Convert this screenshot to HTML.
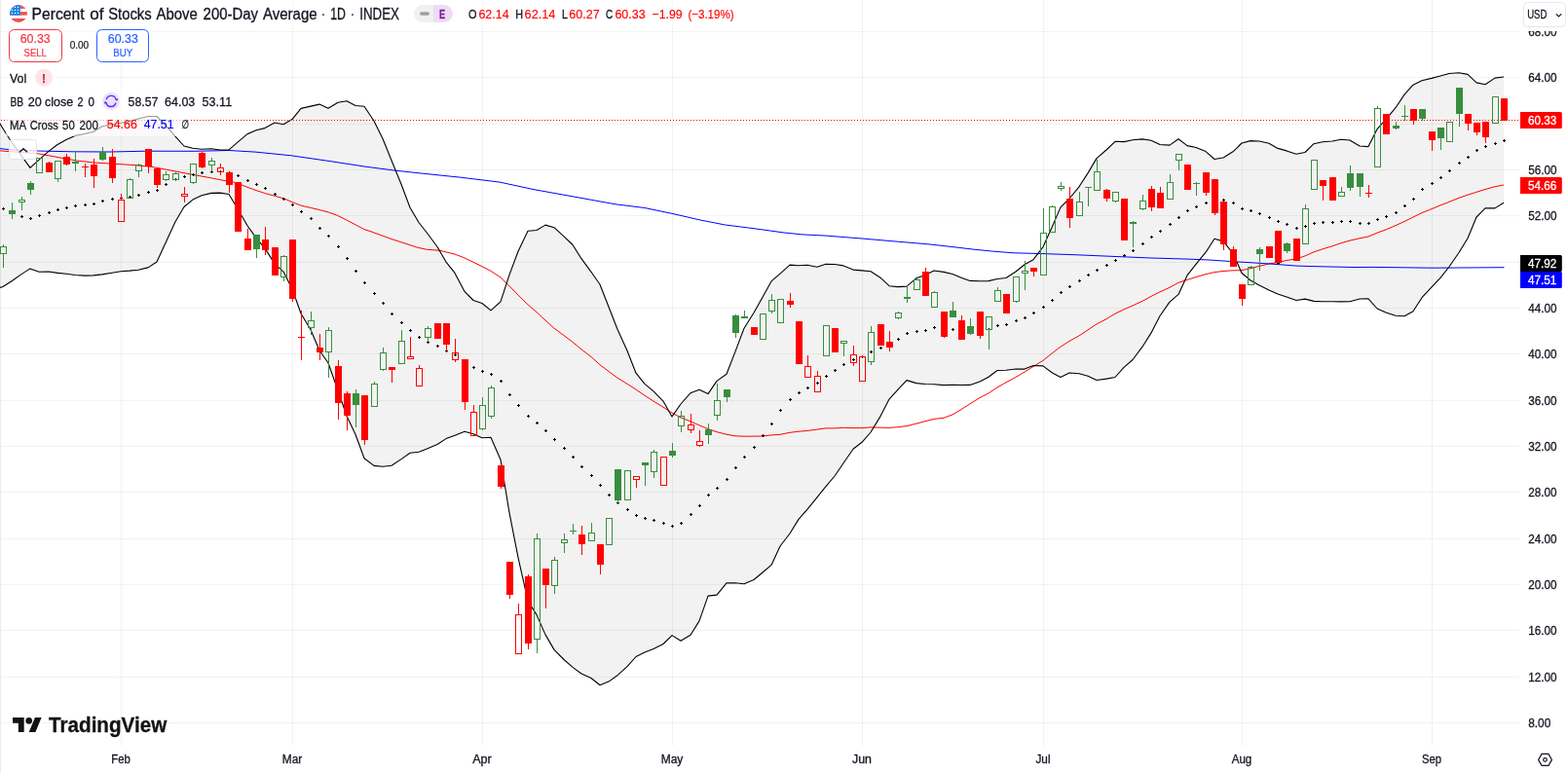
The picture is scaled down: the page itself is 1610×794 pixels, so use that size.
<!DOCTYPE html>
<html lang="en"><head><meta charset="utf-8"><title>Percent of Stocks Above 200-Day Average</title>
<style>
html,body{margin:0;padding:0;background:#fff;overflow:hidden}
body{width:1610px;height:794px;position:relative;font-family:"Liberation Sans",sans-serif}
svg text{font-family:"Liberation Sans","DejaVu Sans",sans-serif}
</style></head><body>
<svg width="1610" height="794" viewBox="0 0 1610 794" style="position:absolute;left:0;top:0;display:block">
<rect width="1610" height="794" fill="#fff"/>
<g shape-rendering="crispEdges" fill="#1c2a22" fill-opacity="0.062">
<rect x="124" y="0" width="1" height="766"/>
<rect x="300" y="0" width="1" height="766"/>
<rect x="495" y="0" width="1" height="766"/>
<rect x="690" y="0" width="1" height="766"/>
<rect x="885" y="0" width="1" height="766"/>
<rect x="1071" y="0" width="1" height="766"/>
<rect x="1275" y="0" width="1" height="766"/>
<rect x="1470" y="0" width="1" height="766"/>
<rect x="0" y="32" width="1560" height="1"/>
<rect x="0" y="79" width="1560" height="1"/>
<rect x="0" y="127" width="1560" height="1"/>
<rect x="0" y="174" width="1560" height="1"/>
<rect x="0" y="221" width="1560" height="1"/>
<rect x="0" y="269" width="1560" height="1"/>
<rect x="0" y="316" width="1560" height="1"/>
<rect x="0" y="363" width="1560" height="1"/>
<rect x="0" y="411" width="1560" height="1"/>
<rect x="0" y="458" width="1560" height="1"/>
<rect x="0" y="505" width="1560" height="1"/>
<rect x="0" y="553" width="1560" height="1"/>
<rect x="0" y="600" width="1560" height="1"/>
<rect x="0" y="647" width="1560" height="1"/>
<rect x="0" y="695" width="1560" height="1"/>
<rect x="0" y="742" width="1560" height="1"/>
</g>
<rect x="0" y="0" width="1" height="794" fill="#ececec" shape-rendering="crispEdges"/>
<polygon points="-6,117.5 3,132 12,146.2 22,159.8 31,172.4 40,164.2 50,155.4 59,148.5 68,143.5 77,139.4 87,137.5 96,135.3 105,129.8 115,127.7 124,126.2 133,124.6 142,122 152,119.5 161,119.5 170,128.7 180,140.2 189,150 198,152.3 207,153.3 217,152.7 226,154 235,153.9 244,146.1 254,137.7 263,133.8 272,131.6 282,126 291,127.8 300,122.6 309,111.4 319,109.1 328,107.1 337,111.2 347,105.2 356,103.8 365,108.5 374,109.2 384,124.2 393,142.5 402,164.8 412,189.3 421,213.3 430,228.5 439,240 449,253.5 458,269.1 467,280.4 477,299.4 486,308.5 495,311.5 504,318.9 514,309.8 523,282.4 532,258.3 542,237.2 551,236.5 560,231.1 569,233.7 579,242.8 588,251.5 597,265.7 607,279.3 616,292.2 625,315.3 634,338.3 644,360.3 653,383.2 662,394.3 671,401.8 681,412.1 690,427.9 699,415 709,403.7 718,400.2 727,404.6 736,391.4 746,384.3 755,361.1 764,337.2 774,321.3 783,305.2 792,288.9 801,281.1 811,272.1 820,272.7 829,272.3 839,274.3 848,271.2 857,271.5 866,272.9 876,277.1 885,277.9 894,278.7 904,285.2 913,293.7 922,294.6 931,294.1 941,285.7 950,282.5 959,278 969,279.4 978,281.5 987,285.3 996,288.4 1006,288.8 1015,288.6 1024,286.5 1033,285.5 1043,279 1052,271.7 1061,266.7 1071,253.6 1080,233.8 1089,212.9 1098,204 1108,191.8 1117,177.9 1126,162.6 1136,154 1145,145.3 1154,145.6 1163,143.8 1173,142.9 1182,144.2 1191,148.5 1201,149.1 1210,142.8 1219,149.6 1228,151.5 1238,155.6 1247,163.5 1256,162 1266,155.8 1275,147 1284,144.6 1293,145 1303,147.2 1312,152.4 1321,154.9 1331,158.3 1340,156.5 1349,147.7 1358,145.7 1368,145 1377,143.3 1386,144 1396,150 1405,150.6 1414,132.7 1423,122.7 1433,110.7 1442,97.1 1451,87.2 1460,82.7 1470,80.4 1479,78 1488,75.5 1498,74.7 1507,76.4 1516,84.9 1525,86.7 1535,80.1 1544,79 1544,208.3 1535,213.9 1525,213.8 1516,223 1507,244.7 1498,259.5 1488,274 1479,285.4 1470,294.9 1460,305.7 1451,319.7 1442,324.8 1433,324.3 1423,321 1414,317 1405,306.8 1396,307 1386,309.7 1377,309.9 1368,309.8 1358,309.8 1349,309.4 1340,307.1 1331,308.5 1321,304.9 1312,302 1303,297.9 1293,292.9 1284,288 1275,280.5 1266,260.2 1256,247.9 1247,245.3 1238,259.2 1228,271.4 1219,282.9 1210,302.4 1201,310.1 1191,324.5 1182,341.9 1173,356.2 1163,369.5 1154,377.3 1145,387.5 1136,389.1 1126,390.5 1117,386.3 1108,383.8 1098,383 1089,387.4 1080,382.8 1071,375.9 1061,375.5 1052,379.1 1043,379 1033,380.2 1024,380.5 1015,387.2 1006,392.1 996,395.4 987,395.5 978,395.2 969,395.6 959,394.7 950,394.5 941,393.6 931,390.6 922,400.2 913,410.1 904,427.6 894,444 885,454.3 876,461.2 866,475.7 857,489 848,499.6 839,510.8 829,523.1 820,533.4 811,548 801,561 792,580.4 783,588 774,595.5 764,599.8 755,598.7 746,598.9 736,611.1 727,612.1 718,637.9 709,652.2 699,658.3 690,652.6 681,661.5 671,666.5 662,669.9 653,674.5 644,684.7 634,693.7 625,700.1 616,703.7 607,696.5 597,692 588,685.4 579,677.5 569,667.4 560,651.9 551,631.6 542,617.1 532,572.6 523,526.7 514,472.2 504,449.3 495,449.8 486,445.8 477,443.2 467,447.3 458,450.6 449,456.5 439,460.8 430,464.2 421,465.3 412,471.6 402,478.3 393,479.2 384,478.4 374,470.8 365,446.3 356,427.3 347,401.2 337,372.8 328,360 319,338.8 309,322 300,296.7 291,279.1 282,270.9 272,255.1 263,244.4 254,231.7 244,214.5 235,199.5 226,198.1 217,198.4 207,200.7 198,205.1 189,212.5 180,227.7 170,249.5 161,269 152,274.9 142,277.2 133,278.1 124,278.7 115,280.2 105,281.9 96,282.9 87,283.1 77,282.5 68,281.2 59,280.4 50,279 40,279.3 31,275.9 22,281.6 12,288.8 3,294.5 -6,297" fill="#000" fill-opacity="0.05"/>
<polyline fill="none" stroke="#ff0000" stroke-width="1" stroke-linejoin="round" points="0,154.8 19,156.4 38,157.6 50,159.8 65,162.6 80,165.2 96,167 113,168 138,169.6 156,171.4 176,175.2 198.9,179.6 217.8,183 232.3,185.9 240.5,187.2 250.5,190.9 263.1,195.6 272.6,198.7 282.6,201.4 291.5,203.9 300.3,207.7 309.7,211.3 319.8,213.6 328.6,215.7 337.4,218 346.2,221.2 356.3,226.2 366.4,231.6 374,235.6 380,237.5 401,245.2 429,254.3 438.5,256.3 451.6,257.3 458,258.9 467,261.1 477,264.9 486,269.3 495,273.7 504,278.4 514,284.9 523,293.8 532,303.1 542,312.9 551,320.6 560,329 569,337.2 579,344.6 588,351.4 597,358.9 607,366.5 616,374.7 625,381.5 634,388.2 644,394.3 653,400.1 662,406.3 671,412.1 681,418.2 690,424.1 699,428.9 709,432.9 718,436.8 727,440.6 736,443.7 746,446.2 755,447.8 764,448.2 774,448.1 783,448 792,446.9 801,446.3 811,444.3 820,443.2 829,442.4 839,441.1 848,439.9 857,439.9 866,439.3 876,439.6 885,439.6 894,438.9 904,439.2 913,439.4 922,438.7 931,437.6 941,435.1 950,432.7 959,430.4 969,429.3 978,425.9 987,420.6 996,414.8 1006,408.5 1015,404 1024,397.9 1033,392.8 1043,387.4 1052,382.1 1061,376.5 1071,370.3 1080,363 1089,356.2 1098,350.4 1108,344.9 1117,338.9 1126,332.9 1136,327.7 1145,322.2 1154,317.8 1163,313.9 1173,309.3 1182,304.4 1191,299.8 1201,295.3 1210,290.3 1219,287.4 1228,284.6 1238,281.7 1247,279.6 1256,278.5 1266,277.8 1275,277.7 1284,275.7 1293,273.4 1303,270.9 1312,269.6 1321,267.5 1331,265.9 1340,262.9 1349,258.8 1358,255.8 1368,252.8 1377,249.7 1386,247.1 1396,244.8 1405,243 1414,239.2 1423,235.9 1433,231.6 1442,227.5 1451,223 1460,218.6 1470,214.6 1479,210.9 1488,207.4 1498,203.3 1507,200.2 1516,197.3 1525,194.5 1535,191.7 1544,190"/>
<polyline fill="none" stroke="#0000ff" stroke-width="1" stroke-linejoin="round" points="0,152.6 12,153.9 38,155 75,155.8 113,156 150,155.2 200,155.3 235,154.5 262,156.1 299,159.8 337,165.3 374,171 406,175.2 436,178.4 473,182.2 513,187.1 548,194.6 600,204 632,209.8 662,213.5 692,219.8 719,226 744,230.9 774,234.7 806,239.1 824,240.9 848,242.1 886,245.1 923,248.3 953,250.8 980,253.8 1000,256.2 1020,258.2 1041,259.8 1071,260.6 1101,261.6 1141,263.3 1182,265 1222,266.2 1241,267 1270,268.9 1282,269.6 1311,271.5 1331,273.1 1360,273.9 1390,274.5 1410,274.4 1470,275.2 1544.5,274.7"/>
<polyline fill="none" stroke="#000" stroke-width="1.1" stroke-linejoin="round" points="-6,117.5 3,132 12,146.2 22,159.8 31,172.4 40,164.2 50,155.4 59,148.5 68,143.5 77,139.4 87,137.5 96,135.3 105,129.8 115,127.7 124,126.2 133,124.6 142,122 152,119.5 161,119.5 170,128.7 180,140.2 189,150 198,152.3 207,153.3 217,152.7 226,154 235,153.9 244,146.1 254,137.7 263,133.8 272,131.6 282,126 291,127.8 300,122.6 309,111.4 319,109.1 328,107.1 337,111.2 347,105.2 356,103.8 365,108.5 374,109.2 384,124.2 393,142.5 402,164.8 412,189.3 421,213.3 430,228.5 439,240 449,253.5 458,269.1 467,280.4 477,299.4 486,308.5 495,311.5 504,318.9 514,309.8 523,282.4 532,258.3 542,237.2 551,236.5 560,231.1 569,233.7 579,242.8 588,251.5 597,265.7 607,279.3 616,292.2 625,315.3 634,338.3 644,360.3 653,383.2 662,394.3 671,401.8 681,412.1 690,427.9 699,415 709,403.7 718,400.2 727,404.6 736,391.4 746,384.3 755,361.1 764,337.2 774,321.3 783,305.2 792,288.9 801,281.1 811,272.1 820,272.7 829,272.3 839,274.3 848,271.2 857,271.5 866,272.9 876,277.1 885,277.9 894,278.7 904,285.2 913,293.7 922,294.6 931,294.1 941,285.7 950,282.5 959,278 969,279.4 978,281.5 987,285.3 996,288.4 1006,288.8 1015,288.6 1024,286.5 1033,285.5 1043,279 1052,271.7 1061,266.7 1071,253.6 1080,233.8 1089,212.9 1098,204 1108,191.8 1117,177.9 1126,162.6 1136,154 1145,145.3 1154,145.6 1163,143.8 1173,142.9 1182,144.2 1191,148.5 1201,149.1 1210,142.8 1219,149.6 1228,151.5 1238,155.6 1247,163.5 1256,162 1266,155.8 1275,147 1284,144.6 1293,145 1303,147.2 1312,152.4 1321,154.9 1331,158.3 1340,156.5 1349,147.7 1358,145.7 1368,145 1377,143.3 1386,144 1396,150 1405,150.6 1414,132.7 1423,122.7 1433,110.7 1442,97.1 1451,87.2 1460,82.7 1470,80.4 1479,78 1488,75.5 1498,74.7 1507,76.4 1516,84.9 1525,86.7 1535,80.1 1544,79"/>
<polyline fill="none" stroke="#000" stroke-width="1.1" stroke-linejoin="round" points="-6,297 3,294.5 12,288.8 22,281.6 31,275.9 40,279.3 50,279 59,280.4 68,281.2 77,282.5 87,283.1 96,282.9 105,281.9 115,280.2 124,278.7 133,278.1 142,277.2 152,274.9 161,269 170,249.5 180,227.7 189,212.5 198,205.1 207,200.7 217,198.4 226,198.1 235,199.5 244,214.5 254,231.7 263,244.4 272,255.1 282,270.9 291,279.1 300,296.7 309,322 319,338.8 328,360 337,372.8 347,401.2 356,427.3 365,446.3 374,470.8 384,478.4 393,479.2 402,478.3 412,471.6 421,465.3 430,464.2 439,460.8 449,456.5 458,450.6 467,447.3 477,443.2 486,445.8 495,449.8 504,449.3 514,472.2 523,526.7 532,572.6 542,617.1 551,631.6 560,651.9 569,667.4 579,677.5 588,685.4 597,692 607,696.5 616,703.7 625,700.1 634,693.7 644,684.7 653,674.5 662,669.9 671,666.5 681,661.5 690,652.6 699,658.3 709,652.2 718,637.9 727,612.1 736,611.1 746,598.9 755,598.7 764,599.8 774,595.5 783,588 792,580.4 801,561 811,548 820,533.4 829,523.1 839,510.8 848,499.6 857,489 866,475.7 876,461.2 885,454.3 894,444 904,427.6 913,410.1 922,400.2 931,390.6 941,393.6 950,394.5 959,394.7 969,395.6 978,395.2 987,395.5 996,395.4 1006,392.1 1015,387.2 1024,380.5 1033,380.2 1043,379 1052,379.1 1061,375.5 1071,375.9 1080,382.8 1089,387.4 1098,383 1108,383.8 1117,386.3 1126,390.5 1136,389.1 1145,387.5 1154,377.3 1163,369.5 1173,356.2 1182,341.9 1191,324.5 1201,310.1 1210,302.4 1219,282.9 1228,271.4 1238,259.2 1247,245.3 1256,247.9 1266,260.2 1275,280.5 1284,288 1293,292.9 1303,297.9 1312,302 1321,304.9 1331,308.5 1340,307.1 1349,309.4 1358,309.8 1368,309.8 1377,309.9 1386,309.7 1396,307 1405,306.8 1414,317 1423,321 1433,324.3 1442,324.8 1451,319.7 1460,305.7 1470,294.9 1479,285.4 1488,274 1498,259.5 1507,244.7 1516,223 1525,213.8 1535,213.9 1544,208.3"/>
<g shape-rendering="crispEdges" fill="#000">
<path d="M2 214h3v1h-3zM3 213h1v3h-1z"/>
<path d="M11 218h3v1h-3zM12 217h1v3h-1z"/>
<path d="M21 222h3v1h-3zM22 221h1v3h-1z"/>
<path d="M30 224h3v1h-3zM31 223h1v3h-1z"/>
<path d="M39 221h3v1h-3zM40 220h1v3h-1z"/>
<path d="M49 218h3v1h-3zM50 217h1v3h-1z"/>
<path d="M58 215h3v1h-3zM59 214h1v3h-1z"/>
<path d="M67 213h3v1h-3zM68 212h1v3h-1z"/>
<path d="M76 211h3v1h-3zM77 210h1v3h-1z"/>
<path d="M86 210h3v1h-3zM87 209h1v3h-1z"/>
<path d="M95 209h3v1h-3zM96 208h1v3h-1z"/>
<path d="M104 206h3v1h-3zM105 205h1v3h-1z"/>
<path d="M114 204h3v1h-3zM115 203h1v3h-1z"/>
<path d="M123 203h3v1h-3zM124 202h1v3h-1z"/>
<path d="M132 202h3v1h-3zM133 201h1v3h-1z"/>
<path d="M141 200h3v1h-3zM142 199h1v3h-1z"/>
<path d="M151 197h3v1h-3zM152 196h1v3h-1z"/>
<path d="M160 195h3v1h-3zM161 194h1v3h-1z"/>
<path d="M169 189h3v1h-3zM170 188h1v3h-1z"/>
<path d="M179 184h3v1h-3zM180 183h1v3h-1z"/>
<path d="M188 181h3v1h-3zM189 180h1v3h-1z"/>
<path d="M197 179h3v1h-3zM198 178h1v3h-1z"/>
<path d="M206 177h3v1h-3zM207 176h1v3h-1z"/>
<path d="M216 176h3v1h-3zM217 175h1v3h-1z"/>
<path d="M225 176h3v1h-3zM226 175h1v3h-1z"/>
<path d="M234 177h3v1h-3zM235 176h1v3h-1z"/>
<path d="M243 180h3v1h-3zM244 179h1v3h-1z"/>
<path d="M253 185h3v1h-3zM254 184h1v3h-1z"/>
<path d="M262 189h3v1h-3zM263 188h1v3h-1z"/>
<path d="M271 193h3v1h-3zM272 192h1v3h-1z"/>
<path d="M281 199h3v1h-3zM282 198h1v3h-1z"/>
<path d="M290 204h3v1h-3zM291 203h1v3h-1z"/>
<path d="M299 210h3v1h-3zM300 209h1v3h-1z"/>
<path d="M308 217h3v1h-3zM309 216h1v3h-1z"/>
<path d="M318 224h3v1h-3zM319 223h1v3h-1z"/>
<path d="M327 234h3v1h-3zM328 233h1v3h-1z"/>
<path d="M336 242h3v1h-3zM337 241h1v3h-1z"/>
<path d="M346 253h3v1h-3zM347 252h1v3h-1z"/>
<path d="M355 265h3v1h-3zM356 264h1v3h-1z"/>
<path d="M364 278h3v1h-3zM365 277h1v3h-1z"/>
<path d="M373 290h3v1h-3zM374 289h1v3h-1z"/>
<path d="M383 301h3v1h-3zM384 300h1v3h-1z"/>
<path d="M392 311h3v1h-3zM393 310h1v3h-1z"/>
<path d="M401 322h3v1h-3zM402 321h1v3h-1z"/>
<path d="M411 331h3v1h-3zM412 330h1v3h-1z"/>
<path d="M420 339h3v1h-3zM421 338h1v3h-1z"/>
<path d="M429 346h3v1h-3zM430 345h1v3h-1z"/>
<path d="M438 351h3v1h-3zM439 350h1v3h-1z"/>
<path d="M448 355h3v1h-3zM449 354h1v3h-1z"/>
<path d="M457 360h3v1h-3zM458 359h1v3h-1z"/>
<path d="M466 364h3v1h-3zM467 363h1v3h-1z"/>
<path d="M476 371h3v1h-3zM477 370h1v3h-1z"/>
<path d="M485 377h3v1h-3zM486 376h1v3h-1z"/>
<path d="M494 381h3v1h-3zM495 380h1v3h-1z"/>
<path d="M503 384h3v1h-3zM504 383h1v3h-1z"/>
<path d="M513 391h3v1h-3zM514 390h1v3h-1z"/>
<path d="M522 405h3v1h-3zM523 404h1v3h-1z"/>
<path d="M531 416h3v1h-3zM532 415h1v3h-1z"/>
<path d="M541 427h3v1h-3zM542 426h1v3h-1z"/>
<path d="M550 434h3v1h-3zM551 433h1v3h-1z"/>
<path d="M559 442h3v1h-3zM560 441h1v3h-1z"/>
<path d="M568 451h3v1h-3zM569 450h1v3h-1z"/>
<path d="M578 460h3v1h-3zM579 459h1v3h-1z"/>
<path d="M587 469h3v1h-3zM588 468h1v3h-1z"/>
<path d="M596 479h3v1h-3zM597 478h1v3h-1z"/>
<path d="M606 488h3v1h-3zM607 487h1v3h-1z"/>
<path d="M615 498h3v1h-3zM616 497h1v3h-1z"/>
<path d="M624 508h3v1h-3zM625 507h1v3h-1z"/>
<path d="M633 516h3v1h-3zM634 515h1v3h-1z"/>
<path d="M643 523h3v1h-3zM644 522h1v3h-1z"/>
<path d="M652 529h3v1h-3zM653 528h1v3h-1z"/>
<path d="M661 532h3v1h-3zM662 531h1v3h-1z"/>
<path d="M670 534h3v1h-3zM671 533h1v3h-1z"/>
<path d="M680 537h3v1h-3zM681 536h1v3h-1z"/>
<path d="M689 540h3v1h-3zM690 539h1v3h-1z"/>
<path d="M698 537h3v1h-3zM699 536h1v3h-1z"/>
<path d="M708 528h3v1h-3zM709 527h1v3h-1z"/>
<path d="M717 519h3v1h-3zM718 518h1v3h-1z"/>
<path d="M726 508h3v1h-3zM727 507h1v3h-1z"/>
<path d="M735 501h3v1h-3zM736 500h1v3h-1z"/>
<path d="M745 492h3v1h-3zM746 491h1v3h-1z"/>
<path d="M754 480h3v1h-3zM755 479h1v3h-1z"/>
<path d="M763 469h3v1h-3zM764 468h1v3h-1z"/>
<path d="M773 459h3v1h-3zM774 458h1v3h-1z"/>
<path d="M782 447h3v1h-3zM783 446h1v3h-1z"/>
<path d="M791 435h3v1h-3zM792 434h1v3h-1z"/>
<path d="M800 421h3v1h-3zM801 420h1v3h-1z"/>
<path d="M810 410h3v1h-3zM811 409h1v3h-1z"/>
<path d="M819 403h3v1h-3zM820 402h1v3h-1z"/>
<path d="M828 398h3v1h-3zM829 397h1v3h-1z"/>
<path d="M838 393h3v1h-3zM839 392h1v3h-1z"/>
<path d="M847 386h3v1h-3zM848 385h1v3h-1z"/>
<path d="M856 380h3v1h-3zM857 379h1v3h-1z"/>
<path d="M865 374h3v1h-3zM866 373h1v3h-1z"/>
<path d="M875 369h3v1h-3zM876 368h1v3h-1z"/>
<path d="M884 366h3v1h-3zM885 365h1v3h-1z"/>
<path d="M893 361h3v1h-3zM894 360h1v3h-1z"/>
<path d="M903 357h3v1h-3zM904 356h1v3h-1z"/>
<path d="M912 352h3v1h-3zM913 351h1v3h-1z"/>
<path d="M921 348h3v1h-3zM922 347h1v3h-1z"/>
<path d="M930 342h3v1h-3zM931 341h1v3h-1z"/>
<path d="M940 340h3v1h-3zM941 339h1v3h-1z"/>
<path d="M949 339h3v1h-3zM950 338h1v3h-1z"/>
<path d="M958 336h3v1h-3zM959 335h1v3h-1z"/>
<path d="M968 338h3v1h-3zM969 337h1v3h-1z"/>
<path d="M977 338h3v1h-3zM978 337h1v3h-1z"/>
<path d="M986 341h3v1h-3zM987 340h1v3h-1z"/>
<path d="M995 342h3v1h-3zM996 341h1v3h-1z"/>
<path d="M1005 341h3v1h-3zM1006 340h1v3h-1z"/>
<path d="M1014 338h3v1h-3zM1015 337h1v3h-1z"/>
<path d="M1023 334h3v1h-3zM1024 333h1v3h-1z"/>
<path d="M1032 333h3v1h-3zM1033 332h1v3h-1z"/>
<path d="M1042 329h3v1h-3zM1043 328h1v3h-1z"/>
<path d="M1051 326h3v1h-3zM1052 325h1v3h-1z"/>
<path d="M1060 321h3v1h-3zM1061 320h1v3h-1z"/>
<path d="M1070 315h3v1h-3zM1071 314h1v3h-1z"/>
<path d="M1079 308h3v1h-3zM1080 307h1v3h-1z"/>
<path d="M1088 300h3v1h-3zM1089 299h1v3h-1z"/>
<path d="M1097 294h3v1h-3zM1098 293h1v3h-1z"/>
<path d="M1107 288h3v1h-3zM1108 287h1v3h-1z"/>
<path d="M1116 282h3v1h-3zM1117 281h1v3h-1z"/>
<path d="M1125 277h3v1h-3zM1126 276h1v3h-1z"/>
<path d="M1135 272h3v1h-3zM1136 271h1v3h-1z"/>
<path d="M1144 267h3v1h-3zM1145 266h1v3h-1z"/>
<path d="M1153 262h3v1h-3zM1154 261h1v3h-1z"/>
<path d="M1162 257h3v1h-3zM1163 256h1v3h-1z"/>
<path d="M1172 250h3v1h-3zM1173 249h1v3h-1z"/>
<path d="M1181 243h3v1h-3zM1182 242h1v3h-1z"/>
<path d="M1190 237h3v1h-3zM1191 236h1v3h-1z"/>
<path d="M1200 230h3v1h-3zM1201 229h1v3h-1z"/>
<path d="M1209 223h3v1h-3zM1210 222h1v3h-1z"/>
<path d="M1218 216h3v1h-3zM1219 215h1v3h-1z"/>
<path d="M1227 212h3v1h-3zM1228 211h1v3h-1z"/>
<path d="M1237 208h3v1h-3zM1238 207h1v3h-1z"/>
<path d="M1246 205h3v1h-3zM1247 204h1v3h-1z"/>
<path d="M1255 205h3v1h-3zM1256 204h1v3h-1z"/>
<path d="M1265 208h3v1h-3zM1266 207h1v3h-1z"/>
<path d="M1274 214h3v1h-3zM1275 213h1v3h-1z"/>
<path d="M1283 216h3v1h-3zM1284 215h1v3h-1z"/>
<path d="M1292 219h3v1h-3zM1293 218h1v3h-1z"/>
<path d="M1302 223h3v1h-3zM1303 222h1v3h-1z"/>
<path d="M1311 227h3v1h-3zM1312 226h1v3h-1z"/>
<path d="M1320 230h3v1h-3zM1321 229h1v3h-1z"/>
<path d="M1330 234h3v1h-3zM1331 233h1v3h-1z"/>
<path d="M1339 232h3v1h-3zM1340 231h1v3h-1z"/>
<path d="M1348 229h3v1h-3zM1349 228h1v3h-1z"/>
<path d="M1357 228h3v1h-3zM1358 227h1v3h-1z"/>
<path d="M1367 228h3v1h-3zM1368 227h1v3h-1z"/>
<path d="M1376 227h3v1h-3zM1377 226h1v3h-1z"/>
<path d="M1385 227h3v1h-3zM1386 226h1v3h-1z"/>
<path d="M1395 229h3v1h-3zM1396 228h1v3h-1z"/>
<path d="M1404 229h3v1h-3zM1405 228h1v3h-1z"/>
<path d="M1413 225h3v1h-3zM1414 224h1v3h-1z"/>
<path d="M1422 222h3v1h-3zM1423 221h1v3h-1z"/>
<path d="M1432 218h3v1h-3zM1433 217h1v3h-1z"/>
<path d="M1441 211h3v1h-3zM1442 210h1v3h-1z"/>
<path d="M1450 204h3v1h-3zM1451 203h1v3h-1z"/>
<path d="M1459 194h3v1h-3zM1460 193h1v3h-1z"/>
<path d="M1469 188h3v1h-3zM1470 187h1v3h-1z"/>
<path d="M1478 182h3v1h-3zM1479 181h1v3h-1z"/>
<path d="M1487 175h3v1h-3zM1488 174h1v3h-1z"/>
<path d="M1497 167h3v1h-3zM1498 166h1v3h-1z"/>
<path d="M1506 161h3v1h-3zM1507 160h1v3h-1z"/>
<path d="M1515 154h3v1h-3zM1516 153h1v3h-1z"/>
<path d="M1524 150h3v1h-3zM1525 149h1v3h-1z"/>
<path d="M1534 147h3v1h-3zM1535 146h1v3h-1z"/>
<path d="M1543 144h3v1h-3zM1544 143h1v3h-1z"/>
<path d="M1311 270h3v1h-3zM1312 269h1v3h-1z"/>
</g>
<g shape-rendering="crispEdges">
<rect x="3" y="251" width="1" height="2" fill="#388e3c"/>
<rect x="3" y="261" width="1" height="14" fill="#388e3c"/>
<rect x="0.5" y="253.5" width="6" height="7" fill="none" stroke="#388e3c" stroke-width="1"/>
<rect x="12" y="208" width="1" height="8" fill="#388e3c"/>
<rect x="12" y="220" width="1" height="5" fill="#388e3c"/>
<rect x="9" y="216" width="7" height="4" fill="#388e3c"/>
<rect x="22" y="202" width="1" height="3" fill="#388e3c"/>
<rect x="22" y="208" width="1" height="8" fill="#388e3c"/>
<rect x="19.5" y="205.5" width="6" height="2" fill="none" stroke="#388e3c" stroke-width="1"/>
<rect x="31" y="186" width="1" height="2" fill="#388e3c"/>
<rect x="31" y="195" width="1" height="5" fill="#388e3c"/>
<rect x="28" y="188" width="7" height="7" fill="#388e3c"/>
<rect x="37.5" y="162.5" width="6" height="15" fill="none" stroke="#388e3c" stroke-width="1"/>
<rect x="50" y="166" width="1" height="1" fill="#ff0000"/>
<rect x="47" y="167" width="7" height="10" fill="#ff0000"/>
<rect x="59" y="184" width="1" height="3" fill="#388e3c"/>
<rect x="56.5" y="165.5" width="6" height="18" fill="none" stroke="#388e3c" stroke-width="1"/>
<rect x="68" y="158" width="1" height="3" fill="#ff0000"/>
<rect x="68" y="169" width="1" height="1" fill="#ff0000"/>
<rect x="65" y="161" width="7" height="8" fill="#ff0000"/>
<rect x="77" y="155" width="1" height="11" fill="#388e3c"/>
<rect x="77" y="168" width="1" height="8" fill="#388e3c"/>
<rect x="74" y="166" width="7" height="2" fill="#388e3c"/>
<rect x="87" y="168" width="1" height="3" fill="#ff0000"/>
<rect x="87" y="172" width="1" height="10" fill="#ff0000"/>
<rect x="84" y="171" width="7" height="1" fill="#ff0000"/>
<rect x="96" y="163" width="1" height="6" fill="#ff0000"/>
<rect x="96" y="181" width="1" height="12" fill="#ff0000"/>
<rect x="93" y="169" width="7" height="12" fill="#ff0000"/>
<rect x="105" y="151" width="1" height="5" fill="#388e3c"/>
<rect x="105" y="164" width="1" height="1" fill="#388e3c"/>
<rect x="102" y="156" width="7" height="8" fill="#388e3c"/>
<rect x="115" y="153" width="1" height="8" fill="#ff0000"/>
<rect x="115" y="183" width="1" height="5" fill="#ff0000"/>
<rect x="112" y="161" width="7" height="22" fill="#ff0000"/>
<rect x="124" y="199" width="1" height="6" fill="#ff0000"/>
<rect x="121.5" y="205.5" width="6" height="22" fill="none" stroke="#ff0000" stroke-width="1"/>
<rect x="133" y="183" width="1" height="1" fill="#388e3c"/>
<rect x="130.5" y="184.5" width="6" height="19" fill="none" stroke="#388e3c" stroke-width="1"/>
<rect x="142" y="168" width="1" height="1" fill="#388e3c"/>
<rect x="142" y="176" width="1" height="6" fill="#388e3c"/>
<rect x="139.5" y="169.5" width="6" height="6" fill="none" stroke="#388e3c" stroke-width="1"/>
<rect x="152" y="171" width="1" height="7" fill="#ff0000"/>
<rect x="149" y="153" width="7" height="18" fill="#ff0000"/>
<rect x="161" y="190" width="1" height="3" fill="#ff0000"/>
<rect x="158" y="173" width="7" height="17" fill="#ff0000"/>
<rect x="170" y="176" width="1" height="3" fill="#388e3c"/>
<rect x="170" y="185" width="1" height="1" fill="#388e3c"/>
<rect x="167.5" y="179.5" width="6" height="5" fill="none" stroke="#388e3c" stroke-width="1"/>
<rect x="180" y="177" width="1" height="1" fill="#388e3c"/>
<rect x="180" y="185" width="1" height="1" fill="#388e3c"/>
<rect x="177.5" y="178.5" width="6" height="6" fill="none" stroke="#388e3c" stroke-width="1"/>
<rect x="189" y="192" width="1" height="7" fill="#ff0000"/>
<rect x="189" y="202" width="1" height="6" fill="#ff0000"/>
<rect x="186.5" y="199.5" width="6" height="2" fill="none" stroke="#ff0000" stroke-width="1"/>
<rect x="198" y="188" width="1" height="1" fill="#388e3c"/>
<rect x="195.5" y="168.5" width="6" height="19" fill="none" stroke="#388e3c" stroke-width="1"/>
<rect x="207" y="156" width="1" height="1" fill="#ff0000"/>
<rect x="207" y="172" width="1" height="1" fill="#ff0000"/>
<rect x="204" y="157" width="7" height="15" fill="#ff0000"/>
<rect x="217" y="162" width="1" height="3" fill="#388e3c"/>
<rect x="217" y="170" width="1" height="6" fill="#388e3c"/>
<rect x="214.5" y="165.5" width="6" height="4" fill="none" stroke="#388e3c" stroke-width="1"/>
<rect x="226" y="168" width="1" height="4" fill="#ff0000"/>
<rect x="226" y="177" width="1" height="3" fill="#ff0000"/>
<rect x="223.5" y="172.5" width="6" height="4" fill="none" stroke="#ff0000" stroke-width="1"/>
<rect x="235" y="190" width="1" height="8" fill="#ff0000"/>
<rect x="232" y="177" width="7" height="13" fill="#ff0000"/>
<rect x="241" y="187" width="7" height="51" fill="#ff0000"/>
<rect x="254" y="235" width="1" height="10" fill="#ff0000"/>
<rect x="251" y="245" width="7" height="12" fill="#ff0000"/>
<rect x="263" y="256" width="1" height="9" fill="#388e3c"/>
<rect x="260" y="241" width="7" height="15" fill="#388e3c"/>
<rect x="272" y="233" width="1" height="13" fill="#ff0000"/>
<rect x="272" y="257" width="1" height="5" fill="#ff0000"/>
<rect x="269" y="246" width="7" height="11" fill="#ff0000"/>
<rect x="279" y="254" width="7" height="29" fill="#ff0000"/>
<rect x="291" y="262" width="1" height="1" fill="#388e3c"/>
<rect x="291" y="285" width="1" height="4" fill="#388e3c"/>
<rect x="288.5" y="263.5" width="6" height="21" fill="none" stroke="#388e3c" stroke-width="1"/>
<rect x="300" y="307" width="1" height="3" fill="#ff0000"/>
<rect x="297" y="246" width="7" height="61" fill="#ff0000"/>
<rect x="309" y="319" width="1" height="27" fill="#ff0000"/>
<rect x="309" y="347" width="1" height="23" fill="#ff0000"/>
<rect x="306" y="346" width="7" height="1" fill="#ff0000"/>
<rect x="319" y="320" width="1" height="9" fill="#388e3c"/>
<rect x="319" y="337" width="1" height="7" fill="#388e3c"/>
<rect x="316.5" y="329.5" width="6" height="7" fill="none" stroke="#388e3c" stroke-width="1"/>
<rect x="328" y="343" width="1" height="14" fill="#ff0000"/>
<rect x="328" y="362" width="1" height="8" fill="#ff0000"/>
<rect x="325" y="357" width="7" height="5" fill="#ff0000"/>
<rect x="337" y="336" width="1" height="3" fill="#388e3c"/>
<rect x="337" y="362" width="1" height="26" fill="#388e3c"/>
<rect x="334.5" y="339.5" width="6" height="22" fill="none" stroke="#388e3c" stroke-width="1"/>
<rect x="347" y="370" width="1" height="6" fill="#ff0000"/>
<rect x="347" y="414" width="1" height="17" fill="#ff0000"/>
<rect x="344" y="376" width="7" height="38" fill="#ff0000"/>
<rect x="356" y="402" width="1" height="2" fill="#ff0000"/>
<rect x="356" y="427" width="1" height="15" fill="#ff0000"/>
<rect x="353" y="404" width="7" height="23" fill="#ff0000"/>
<rect x="365" y="400" width="1" height="4" fill="#388e3c"/>
<rect x="365" y="416" width="1" height="23" fill="#388e3c"/>
<rect x="362" y="404" width="7" height="12" fill="#388e3c"/>
<rect x="374" y="452" width="1" height="5" fill="#ff0000"/>
<rect x="371" y="406" width="7" height="46" fill="#ff0000"/>
<rect x="384" y="392" width="1" height="2" fill="#388e3c"/>
<rect x="381.5" y="394.5" width="6" height="23" fill="none" stroke="#388e3c" stroke-width="1"/>
<rect x="393" y="357" width="1" height="5" fill="#388e3c"/>
<rect x="393" y="380" width="1" height="1" fill="#388e3c"/>
<rect x="390.5" y="362.5" width="6" height="17" fill="none" stroke="#388e3c" stroke-width="1"/>
<rect x="402" y="380" width="1" height="13" fill="#ff0000"/>
<rect x="399" y="377" width="7" height="3" fill="#ff0000"/>
<rect x="412" y="339" width="1" height="11" fill="#388e3c"/>
<rect x="409.5" y="350.5" width="6" height="23" fill="none" stroke="#388e3c" stroke-width="1"/>
<rect x="421" y="346" width="1" height="20" fill="#ff0000"/>
<rect x="418.5" y="366.5" width="6" height="2" fill="none" stroke="#ff0000" stroke-width="1"/>
<rect x="430" y="375" width="1" height="3" fill="#ff0000"/>
<rect x="427.5" y="378.5" width="6" height="18" fill="none" stroke="#ff0000" stroke-width="1"/>
<rect x="439" y="335" width="1" height="2" fill="#388e3c"/>
<rect x="439" y="347" width="1" height="4" fill="#388e3c"/>
<rect x="436.5" y="337.5" width="6" height="9" fill="none" stroke="#388e3c" stroke-width="1"/>
<rect x="446" y="332" width="7" height="16" fill="#ff0000"/>
<rect x="458" y="354" width="1" height="7" fill="#ff0000"/>
<rect x="455" y="332" width="7" height="22" fill="#ff0000"/>
<rect x="467" y="348" width="1" height="14" fill="#ff0000"/>
<rect x="467" y="370" width="1" height="2" fill="#ff0000"/>
<rect x="464.5" y="362.5" width="6" height="7" fill="none" stroke="#ff0000" stroke-width="1"/>
<rect x="477" y="413" width="1" height="8" fill="#ff0000"/>
<rect x="474" y="369" width="7" height="44" fill="#ff0000"/>
<rect x="486" y="416" width="1" height="7" fill="#ff0000"/>
<rect x="483.5" y="423.5" width="6" height="24" fill="none" stroke="#ff0000" stroke-width="1"/>
<rect x="495" y="408" width="1" height="8" fill="#388e3c"/>
<rect x="495" y="441" width="1" height="1" fill="#388e3c"/>
<rect x="492.5" y="416.5" width="6" height="24" fill="none" stroke="#388e3c" stroke-width="1"/>
<rect x="504" y="396" width="1" height="2" fill="#388e3c"/>
<rect x="504" y="428" width="1" height="2" fill="#388e3c"/>
<rect x="501.5" y="398.5" width="6" height="29" fill="none" stroke="#388e3c" stroke-width="1"/>
<rect x="514" y="500" width="1" height="2" fill="#ff0000"/>
<rect x="511" y="478" width="7" height="22" fill="#ff0000"/>
<rect x="523" y="611" width="1" height="4" fill="#ff0000"/>
<rect x="520" y="577" width="7" height="34" fill="#ff0000"/>
<rect x="532" y="620" width="1" height="11" fill="#ff0000"/>
<rect x="529.5" y="631.5" width="6" height="40" fill="none" stroke="#ff0000" stroke-width="1"/>
<rect x="542" y="590" width="1" height="2" fill="#ff0000"/>
<rect x="542" y="661" width="1" height="6" fill="#ff0000"/>
<rect x="539" y="592" width="7" height="69" fill="#ff0000"/>
<rect x="551" y="548" width="1" height="5" fill="#388e3c"/>
<rect x="551" y="657" width="1" height="14" fill="#388e3c"/>
<rect x="548.5" y="553.5" width="6" height="103" fill="none" stroke="#388e3c" stroke-width="1"/>
<rect x="560" y="601" width="1" height="24" fill="#ff0000"/>
<rect x="557" y="584" width="7" height="17" fill="#ff0000"/>
<rect x="569" y="572" width="1" height="3" fill="#388e3c"/>
<rect x="569" y="602" width="1" height="8" fill="#388e3c"/>
<rect x="566.5" y="575.5" width="6" height="26" fill="none" stroke="#388e3c" stroke-width="1"/>
<rect x="579" y="548" width="1" height="6" fill="#388e3c"/>
<rect x="579" y="558" width="1" height="10" fill="#388e3c"/>
<rect x="576.5" y="554.5" width="6" height="3" fill="none" stroke="#388e3c" stroke-width="1"/>
<rect x="588" y="538" width="1" height="7" fill="#388e3c"/>
<rect x="588" y="546" width="1" height="3" fill="#388e3c"/>
<rect x="585" y="545" width="7" height="1" fill="#388e3c"/>
<rect x="597" y="540" width="1" height="9" fill="#ff0000"/>
<rect x="597" y="559" width="1" height="11" fill="#ff0000"/>
<rect x="594" y="549" width="7" height="10" fill="#ff0000"/>
<rect x="607" y="537" width="1" height="10" fill="#388e3c"/>
<rect x="604.5" y="547.5" width="6" height="8" fill="none" stroke="#388e3c" stroke-width="1"/>
<rect x="616" y="580" width="1" height="10" fill="#ff0000"/>
<rect x="613" y="559" width="7" height="21" fill="#ff0000"/>
<rect x="622.5" y="532.5" width="6" height="27" fill="none" stroke="#388e3c" stroke-width="1"/>
<rect x="634" y="514" width="1" height="3" fill="#388e3c"/>
<rect x="631" y="482" width="7" height="32" fill="#388e3c"/>
<rect x="641.5" y="483.5" width="6" height="30" fill="none" stroke="#388e3c" stroke-width="1"/>
<rect x="653" y="493" width="1" height="8" fill="#ff0000"/>
<rect x="650.5" y="489.5" width="6" height="3" fill="none" stroke="#ff0000" stroke-width="1"/>
<rect x="662" y="478" width="1" height="21" fill="#388e3c"/>
<rect x="659" y="475" width="7" height="3" fill="#388e3c"/>
<rect x="671" y="462" width="1" height="2" fill="#388e3c"/>
<rect x="671" y="485" width="1" height="6" fill="#388e3c"/>
<rect x="668.5" y="464.5" width="6" height="20" fill="none" stroke="#388e3c" stroke-width="1"/>
<rect x="678.5" y="469.5" width="6" height="29" fill="none" stroke="#ff0000" stroke-width="1"/>
<rect x="690" y="455" width="1" height="8" fill="#388e3c"/>
<rect x="690" y="468" width="1" height="2" fill="#388e3c"/>
<rect x="687" y="463" width="7" height="5" fill="#388e3c"/>
<rect x="699" y="422" width="1" height="5" fill="#388e3c"/>
<rect x="699" y="438" width="1" height="6" fill="#388e3c"/>
<rect x="696.5" y="427.5" width="6" height="10" fill="none" stroke="#388e3c" stroke-width="1"/>
<rect x="709" y="425" width="1" height="11" fill="#ff0000"/>
<rect x="709" y="442" width="1" height="3" fill="#ff0000"/>
<rect x="706.5" y="436.5" width="6" height="5" fill="none" stroke="#ff0000" stroke-width="1"/>
<rect x="718" y="442" width="1" height="11" fill="#ff0000"/>
<rect x="718" y="458" width="1" height="1" fill="#ff0000"/>
<rect x="715.5" y="453.5" width="6" height="4" fill="none" stroke="#ff0000" stroke-width="1"/>
<rect x="727" y="435" width="1" height="6" fill="#388e3c"/>
<rect x="727" y="447" width="1" height="9" fill="#388e3c"/>
<rect x="724" y="441" width="7" height="6" fill="#388e3c"/>
<rect x="736" y="394" width="1" height="17" fill="#388e3c"/>
<rect x="736" y="427" width="1" height="5" fill="#388e3c"/>
<rect x="733.5" y="411.5" width="6" height="15" fill="none" stroke="#388e3c" stroke-width="1"/>
<rect x="746" y="408" width="1" height="5" fill="#388e3c"/>
<rect x="743" y="400" width="7" height="8" fill="#388e3c"/>
<rect x="755" y="323" width="1" height="1" fill="#388e3c"/>
<rect x="755" y="342" width="1" height="5" fill="#388e3c"/>
<rect x="752" y="324" width="7" height="18" fill="#388e3c"/>
<rect x="764" y="319" width="1" height="6" fill="#388e3c"/>
<rect x="761" y="325" width="7" height="2" fill="#388e3c"/>
<rect x="771" y="336" width="7" height="8" fill="#ff0000"/>
<rect x="780.5" y="322.5" width="6" height="26" fill="none" stroke="#388e3c" stroke-width="1"/>
<rect x="792" y="302" width="1" height="6" fill="#388e3c"/>
<rect x="792" y="320" width="1" height="2" fill="#388e3c"/>
<rect x="789.5" y="308.5" width="6" height="11" fill="none" stroke="#388e3c" stroke-width="1"/>
<rect x="798.5" y="307.5" width="6" height="24" fill="none" stroke="#388e3c" stroke-width="1"/>
<rect x="811" y="301" width="1" height="8" fill="#ff0000"/>
<rect x="811" y="313" width="1" height="3" fill="#ff0000"/>
<rect x="808" y="309" width="7" height="4" fill="#ff0000"/>
<rect x="817" y="330" width="7" height="44" fill="#ff0000"/>
<rect x="829" y="365" width="1" height="11" fill="#ff0000"/>
<rect x="826.5" y="376.5" width="6" height="11" fill="none" stroke="#ff0000" stroke-width="1"/>
<rect x="839" y="381" width="1" height="5" fill="#ff0000"/>
<rect x="836.5" y="386.5" width="6" height="16" fill="none" stroke="#ff0000" stroke-width="1"/>
<rect x="845.5" y="334.5" width="6" height="31" fill="none" stroke="#388e3c" stroke-width="1"/>
<rect x="854" y="337" width="7" height="25" fill="#ff0000"/>
<rect x="866" y="353" width="1" height="13" fill="#388e3c"/>
<rect x="863.5" y="350.5" width="6" height="2" fill="none" stroke="#388e3c" stroke-width="1"/>
<rect x="876" y="355" width="1" height="9" fill="#ff0000"/>
<rect x="876" y="373" width="1" height="3" fill="#ff0000"/>
<rect x="873.5" y="364.5" width="6" height="8" fill="none" stroke="#ff0000" stroke-width="1"/>
<rect x="885" y="365" width="1" height="1" fill="#ff0000"/>
<rect x="882.5" y="366.5" width="6" height="25" fill="none" stroke="#ff0000" stroke-width="1"/>
<rect x="894" y="335" width="1" height="6" fill="#388e3c"/>
<rect x="894" y="372" width="1" height="3" fill="#388e3c"/>
<rect x="891.5" y="341.5" width="6" height="30" fill="none" stroke="#388e3c" stroke-width="1"/>
<rect x="901" y="333" width="7" height="22" fill="#ff0000"/>
<rect x="913" y="340" width="1" height="11" fill="#ff0000"/>
<rect x="913" y="357" width="1" height="4" fill="#ff0000"/>
<rect x="910" y="351" width="7" height="6" fill="#ff0000"/>
<rect x="922" y="320" width="1" height="1" fill="#388e3c"/>
<rect x="922" y="327" width="1" height="1" fill="#388e3c"/>
<rect x="919.5" y="321.5" width="6" height="5" fill="none" stroke="#388e3c" stroke-width="1"/>
<rect x="931" y="293" width="1" height="12" fill="#388e3c"/>
<rect x="931" y="307" width="1" height="4" fill="#388e3c"/>
<rect x="928" y="305" width="7" height="2" fill="#388e3c"/>
<rect x="941" y="284" width="1" height="3" fill="#388e3c"/>
<rect x="938.5" y="287.5" width="6" height="10" fill="none" stroke="#388e3c" stroke-width="1"/>
<rect x="950" y="275" width="1" height="4" fill="#ff0000"/>
<rect x="947" y="279" width="7" height="25" fill="#ff0000"/>
<rect x="959" y="299" width="1" height="1" fill="#388e3c"/>
<rect x="956.5" y="300.5" width="6" height="15" fill="none" stroke="#388e3c" stroke-width="1"/>
<rect x="969" y="346" width="1" height="1" fill="#ff0000"/>
<rect x="966" y="320" width="7" height="26" fill="#ff0000"/>
<rect x="978" y="310" width="1" height="9" fill="#388e3c"/>
<rect x="975" y="319" width="7" height="7" fill="#388e3c"/>
<rect x="987" y="324" width="1" height="5" fill="#ff0000"/>
<rect x="984" y="329" width="7" height="20" fill="#ff0000"/>
<rect x="996" y="327" width="1" height="8" fill="#388e3c"/>
<rect x="996" y="343" width="1" height="1" fill="#388e3c"/>
<rect x="993" y="335" width="7" height="8" fill="#388e3c"/>
<rect x="1006" y="345" width="1" height="3" fill="#ff0000"/>
<rect x="1003" y="320" width="7" height="25" fill="#ff0000"/>
<rect x="1015" y="339" width="1" height="20" fill="#388e3c"/>
<rect x="1012.5" y="325.5" width="6" height="13" fill="none" stroke="#388e3c" stroke-width="1"/>
<rect x="1024" y="295" width="1" height="3" fill="#388e3c"/>
<rect x="1021.5" y="298.5" width="6" height="11" fill="none" stroke="#388e3c" stroke-width="1"/>
<rect x="1030" y="302" width="7" height="20" fill="#ff0000"/>
<rect x="1043" y="310" width="1" height="1" fill="#388e3c"/>
<rect x="1040.5" y="284.5" width="6" height="25" fill="none" stroke="#388e3c" stroke-width="1"/>
<rect x="1052" y="268" width="1" height="10" fill="#388e3c"/>
<rect x="1052" y="281" width="1" height="17" fill="#388e3c"/>
<rect x="1049.5" y="278.5" width="6" height="2" fill="none" stroke="#388e3c" stroke-width="1"/>
<rect x="1061" y="279" width="1" height="5" fill="#ff0000"/>
<rect x="1058" y="275" width="7" height="4" fill="#ff0000"/>
<rect x="1071" y="214" width="1" height="25" fill="#388e3c"/>
<rect x="1068.5" y="239.5" width="6" height="43" fill="none" stroke="#388e3c" stroke-width="1"/>
<rect x="1080" y="211" width="1" height="1" fill="#388e3c"/>
<rect x="1077.5" y="212.5" width="6" height="26" fill="none" stroke="#388e3c" stroke-width="1"/>
<rect x="1089" y="187" width="1" height="4" fill="#388e3c"/>
<rect x="1089" y="194" width="1" height="2" fill="#388e3c"/>
<rect x="1086.5" y="191.5" width="6" height="2" fill="none" stroke="#388e3c" stroke-width="1"/>
<rect x="1098" y="192" width="1" height="12" fill="#ff0000"/>
<rect x="1098" y="224" width="1" height="10" fill="#ff0000"/>
<rect x="1095" y="204" width="7" height="20" fill="#ff0000"/>
<rect x="1108" y="197" width="1" height="10" fill="#388e3c"/>
<rect x="1105.5" y="207.5" width="6" height="14" fill="none" stroke="#388e3c" stroke-width="1"/>
<rect x="1117" y="193" width="1" height="19" fill="#388e3c"/>
<rect x="1114" y="192" width="7" height="1" fill="#388e3c"/>
<rect x="1126" y="164" width="1" height="12" fill="#388e3c"/>
<rect x="1123.5" y="176.5" width="6" height="19" fill="none" stroke="#388e3c" stroke-width="1"/>
<rect x="1136" y="194" width="1" height="1" fill="#ff0000"/>
<rect x="1136" y="204" width="1" height="3" fill="#ff0000"/>
<rect x="1133" y="195" width="7" height="9" fill="#ff0000"/>
<rect x="1145" y="207" width="1" height="1" fill="#388e3c"/>
<rect x="1142.5" y="197.5" width="6" height="9" fill="none" stroke="#388e3c" stroke-width="1"/>
<rect x="1151" y="204" width="7" height="43" fill="#ff0000"/>
<rect x="1163" y="227" width="1" height="1" fill="#388e3c"/>
<rect x="1163" y="230" width="1" height="24" fill="#388e3c"/>
<rect x="1160" y="228" width="7" height="2" fill="#388e3c"/>
<rect x="1173" y="200" width="1" height="6" fill="#388e3c"/>
<rect x="1173" y="215" width="1" height="1" fill="#388e3c"/>
<rect x="1170.5" y="206.5" width="6" height="8" fill="none" stroke="#388e3c" stroke-width="1"/>
<rect x="1182" y="191" width="1" height="3" fill="#ff0000"/>
<rect x="1182" y="213" width="1" height="4" fill="#ff0000"/>
<rect x="1179" y="194" width="7" height="19" fill="#ff0000"/>
<rect x="1191" y="192" width="1" height="6" fill="#ff0000"/>
<rect x="1188" y="198" width="7" height="16" fill="#ff0000"/>
<rect x="1201" y="179" width="1" height="8" fill="#388e3c"/>
<rect x="1198.5" y="187.5" width="6" height="17" fill="none" stroke="#388e3c" stroke-width="1"/>
<rect x="1210" y="165" width="1" height="10" fill="#388e3c"/>
<rect x="1207.5" y="158.5" width="6" height="6" fill="none" stroke="#388e3c" stroke-width="1"/>
<rect x="1216" y="169" width="7" height="26" fill="#ff0000"/>
<rect x="1228" y="187" width="1" height="1" fill="#388e3c"/>
<rect x="1228" y="189" width="1" height="12" fill="#388e3c"/>
<rect x="1225" y="188" width="7" height="1" fill="#388e3c"/>
<rect x="1238" y="198" width="1" height="3" fill="#ff0000"/>
<rect x="1235" y="177" width="7" height="21" fill="#ff0000"/>
<rect x="1247" y="219" width="1" height="2" fill="#ff0000"/>
<rect x="1244" y="184" width="7" height="35" fill="#ff0000"/>
<rect x="1256" y="251" width="1" height="6" fill="#ff0000"/>
<rect x="1253" y="207" width="7" height="44" fill="#ff0000"/>
<rect x="1266" y="253" width="1" height="3" fill="#ff0000"/>
<rect x="1263" y="256" width="7" height="18" fill="#ff0000"/>
<rect x="1275" y="307" width="1" height="7" fill="#ff0000"/>
<rect x="1272" y="292" width="7" height="15" fill="#ff0000"/>
<rect x="1284" y="273" width="1" height="1" fill="#388e3c"/>
<rect x="1281.5" y="274.5" width="6" height="18" fill="none" stroke="#388e3c" stroke-width="1"/>
<rect x="1293" y="254" width="1" height="2" fill="#388e3c"/>
<rect x="1293" y="261" width="1" height="17" fill="#388e3c"/>
<rect x="1290" y="256" width="7" height="5" fill="#388e3c"/>
<rect x="1300" y="253" width="7" height="12" fill="#ff0000"/>
<rect x="1309" y="237" width="7" height="33" fill="#ff0000"/>
<rect x="1321" y="249" width="1" height="1" fill="#388e3c"/>
<rect x="1321" y="258" width="1" height="2" fill="#388e3c"/>
<rect x="1318" y="250" width="7" height="8" fill="#388e3c"/>
<rect x="1328" y="245" width="7" height="23" fill="#ff0000"/>
<rect x="1340" y="210" width="1" height="4" fill="#388e3c"/>
<rect x="1337.5" y="214.5" width="6" height="36" fill="none" stroke="#388e3c" stroke-width="1"/>
<rect x="1346.5" y="164.5" width="6" height="30" fill="none" stroke="#388e3c" stroke-width="1"/>
<rect x="1358" y="191" width="1" height="15" fill="#ff0000"/>
<rect x="1355" y="185" width="7" height="6" fill="#ff0000"/>
<rect x="1365" y="182" width="7" height="24" fill="#ff0000"/>
<rect x="1377" y="192" width="1" height="5" fill="#388e3c"/>
<rect x="1374.5" y="197.5" width="6" height="4" fill="none" stroke="#388e3c" stroke-width="1"/>
<rect x="1386" y="170" width="1" height="8" fill="#388e3c"/>
<rect x="1386" y="193" width="1" height="3" fill="#388e3c"/>
<rect x="1383" y="178" width="7" height="15" fill="#388e3c"/>
<rect x="1396" y="192" width="1" height="10" fill="#388e3c"/>
<rect x="1393" y="178" width="7" height="14" fill="#388e3c"/>
<rect x="1405" y="190" width="1" height="8" fill="#ff0000"/>
<rect x="1405" y="199" width="1" height="4" fill="#ff0000"/>
<rect x="1402" y="198" width="7" height="1" fill="#ff0000"/>
<rect x="1414" y="109" width="1" height="2" fill="#388e3c"/>
<rect x="1411.5" y="111.5" width="6" height="60" fill="none" stroke="#388e3c" stroke-width="1"/>
<rect x="1420" y="117" width="7" height="21" fill="#ff0000"/>
<rect x="1433" y="125" width="1" height="4" fill="#388e3c"/>
<rect x="1433" y="132" width="1" height="1" fill="#388e3c"/>
<rect x="1430" y="129" width="7" height="3" fill="#388e3c"/>
<rect x="1442" y="108" width="1" height="11" fill="#388e3c"/>
<rect x="1442" y="120" width="1" height="4" fill="#388e3c"/>
<rect x="1439" y="119" width="7" height="1" fill="#388e3c"/>
<rect x="1451" y="124" width="1" height="4" fill="#ff0000"/>
<rect x="1448" y="112" width="7" height="12" fill="#ff0000"/>
<rect x="1460" y="122" width="1" height="2" fill="#388e3c"/>
<rect x="1457" y="112" width="7" height="10" fill="#388e3c"/>
<rect x="1470" y="144" width="1" height="11" fill="#ff0000"/>
<rect x="1467" y="135" width="7" height="9" fill="#ff0000"/>
<rect x="1479" y="142" width="1" height="12" fill="#388e3c"/>
<rect x="1476" y="131" width="7" height="11" fill="#388e3c"/>
<rect x="1485.5" y="125.5" width="6" height="20" fill="none" stroke="#388e3c" stroke-width="1"/>
<rect x="1498" y="117" width="1" height="13" fill="#388e3c"/>
<rect x="1495" y="90" width="7" height="27" fill="#388e3c"/>
<rect x="1507" y="127" width="1" height="7" fill="#ff0000"/>
<rect x="1504" y="117" width="7" height="10" fill="#ff0000"/>
<rect x="1516" y="136" width="1" height="3" fill="#ff0000"/>
<rect x="1513" y="126" width="7" height="10" fill="#ff0000"/>
<rect x="1525" y="141" width="1" height="6" fill="#ff0000"/>
<rect x="1522" y="125" width="7" height="16" fill="#ff0000"/>
<rect x="1532.5" y="99.5" width="6" height="27" fill="none" stroke="#388e3c" stroke-width="1"/>
<rect x="1541" y="101" width="7" height="23" fill="#ff0000"/>
</g>
<g shape-rendering="crispEdges"><line x1="1" y1="123.5" x2="1560" y2="123.5" stroke="#ff0000" stroke-width="1" stroke-dasharray="1 2"/></g>
<rect x="6" y="2" width="756" height="24" fill="#fff" fill-opacity="0.6"/>
<rect x="6" y="28" width="150" height="38" fill="#fff" fill-opacity="0.6"/>
<rect x="6" y="68" width="51" height="24" fill="#fff" fill-opacity="0.6"/>
<rect x="6" y="92" width="236" height="24" fill="#fff" fill-opacity="0.6"/>
<rect x="6" y="116" width="189" height="24" fill="#fff" fill-opacity="0.6"/>
<rect x="9.5" y="143.5" width="28" height="20" rx="3" fill="#fff" fill-opacity="0.8" stroke="#e0e3eb" stroke-width="1"/>
<path d="M20 156.3l4-3.6 4 3.6" fill="none" stroke="#131722" stroke-width="1.3"/>
<defs><clipPath id="fc"><circle cx="19" cy="14" r="9"/></clipPath></defs>
<g clip-path="url(#fc)"><rect x="10" y="5" width="18" height="18" fill="#fff"/><rect x="10" y="5" width="18" height="3.9" fill="#ef5350"/><rect x="10" y="12.1" width="18" height="3.6" fill="#ef5350"/><rect x="10" y="18.9" width="18" height="4.1" fill="#ef5350"/><rect x="10" y="5" width="10.9" height="10.7" fill="#1e88e5"/><circle cx="12.4" cy="7.4" r="0.7" fill="#fff"/><circle cx="15.4" cy="7.4" r="0.7" fill="#fff"/><circle cx="18.5" cy="7.4" r="0.7" fill="#fff"/><circle cx="12.4" cy="10.4" r="0.7" fill="#fff"/><circle cx="15.4" cy="10.4" r="0.7" fill="#fff"/><circle cx="18.5" cy="10.4" r="0.7" fill="#fff"/><circle cx="12.4" cy="13.4" r="0.7" fill="#fff"/><circle cx="15.4" cy="13.4" r="0.7" fill="#fff"/><circle cx="18.5" cy="13.4" r="0.7" fill="#fff"/></g>
<text y="19.6" font-size="15.8" fill="#131722" stroke="#131722" stroke-width="0.3"><tspan x="32.6" textLength="53.9" lengthAdjust="spacingAndGlyphs">Percent</tspan> <tspan x="92.3" textLength="14.2" lengthAdjust="spacingAndGlyphs">of</tspan> <tspan x="111.2" textLength="44.5" lengthAdjust="spacingAndGlyphs">Stocks</tspan> <tspan x="160.5" textLength="42.3" lengthAdjust="spacingAndGlyphs">Above</tspan> <tspan x="208.6" textLength="56.4" lengthAdjust="spacingAndGlyphs">200-Day</tspan> <tspan x="270.0" textLength="55.7" lengthAdjust="spacingAndGlyphs">Average</tspan> <tspan x="330.2" textLength="3.4" lengthAdjust="spacingAndGlyphs">·</tspan> <tspan x="339.3" textLength="15.7" lengthAdjust="spacingAndGlyphs">1D</tspan> <tspan x="360.2" textLength="3.4" lengthAdjust="spacingAndGlyphs">·</tspan> <tspan x="369.3" textLength="40.7" lengthAdjust="spacingAndGlyphs">INDEX</tspan></text>
<path d="M434 5h11v18h-11a9 9 0 0 1 0-18z" fill="#f0f0f0"/>
<path d="M445 5h11a9 9 0 0 1 0 18h-11z" fill="#eedcf4"/>
<rect x="431" y="12.2" width="10" height="3.6" rx="1.8" fill="#9e9e9e"/>
<text x="451.0" y="18.6" font-size="12.5" fill="#7b1fa2" font-weight="bold" stroke="#7b1fa2" stroke-width="0.3" textLength="6.2" lengthAdjust="spacingAndGlyphs">E</text>
<text y="18.6" font-size="13" fill="#131722" stroke="#131722" stroke-width="0.3"><tspan x="481.1" textLength="8.5" lengthAdjust="spacingAndGlyphs">O</tspan><tspan x="491.4" textLength="31.2" lengthAdjust="spacingAndGlyphs" fill="#ff0000" stroke="#ff0000" stroke-width="0.15">62.14</tspan> <tspan x="529.3" textLength="7.8" lengthAdjust="spacingAndGlyphs">H</tspan><tspan x="538.6" textLength="31.8" lengthAdjust="spacingAndGlyphs" fill="#ff0000" stroke="#ff0000" stroke-width="0.15">62.14</tspan> <tspan x="577.1" textLength="5.8" lengthAdjust="spacingAndGlyphs">L</tspan><tspan x="584.3" textLength="31.4" lengthAdjust="spacingAndGlyphs" fill="#ff0000" stroke="#ff0000" stroke-width="0.15">60.27</tspan> <tspan x="622.1" textLength="7.2" lengthAdjust="spacingAndGlyphs">C</tspan><tspan x="631.4" textLength="31.2" lengthAdjust="spacingAndGlyphs" fill="#ff0000" stroke="#ff0000" stroke-width="0.15">60.33</tspan> <tspan x="669.6" textLength="31.1" lengthAdjust="spacingAndGlyphs" fill="#ff0000" stroke="#ff0000" stroke-width="0.15">−1.99</tspan> <tspan x="706.4" textLength="47.2" lengthAdjust="spacingAndGlyphs" fill="#ff0000" stroke="#ff0000" stroke-width="0.15">(−3.19%)</tspan></text>
<rect x="9.5" y="30.5" width="54" height="33" rx="5" fill="#fff" stroke="#f23645" stroke-width="1"/>
<rect x="99.5" y="30.5" width="53" height="33" rx="5" fill="#fff" stroke="#2962ff" stroke-width="1"/>
<text x="20.7" y="43.6" font-size="12.6" fill="#f23645" stroke="#f23645" stroke-width="0.2" textLength="31.0" lengthAdjust="spacingAndGlyphs">60.33</text>
<text x="24.6" y="57.8" font-size="11" fill="#f23645" stroke="#f23645" stroke-width="0.2" textLength="23.2" lengthAdjust="spacingAndGlyphs">SELL</text>
<text x="71.7" y="50.1" font-size="10.3" fill="#131722" stroke="#131722" stroke-width="0.2" textLength="19.5" lengthAdjust="spacingAndGlyphs">0.00</text>
<text x="110.8" y="43.6" font-size="12.6" fill="#2962ff" stroke="#2962ff" stroke-width="0.2" textLength="31.1" lengthAdjust="spacingAndGlyphs">60.33</text>
<text x="116.3" y="57.8" font-size="11" fill="#2962ff" stroke="#2962ff" stroke-width="0.2" textLength="19.9" lengthAdjust="spacingAndGlyphs">BUY</text>
<text x="10.1" y="84.7" font-size="13" fill="#131722" stroke="#131722" stroke-width="0.3" textLength="17.1" lengthAdjust="spacingAndGlyphs">Vol</text>
<circle cx="45.1" cy="79.7" r="9" fill="#fce4e8"/>
<text x="43.1" y="84.7" font-size="12.5" fill="#cc1f36" font-weight="bold" stroke="#cc1f36" stroke-width="0.25" textLength="4.0" lengthAdjust="spacingAndGlyphs">!</text>
<text y="108.8" font-size="13" fill="#131722" stroke="#131722" stroke-width="0.3"><tspan x="10.5" textLength="13.7" lengthAdjust="spacingAndGlyphs">BB</tspan> <tspan x="28.7" textLength="14.1" lengthAdjust="spacingAndGlyphs">20</tspan> <tspan x="46.0" textLength="29.1" lengthAdjust="spacingAndGlyphs">close</tspan> <tspan x="79.6" textLength="6.0" lengthAdjust="spacingAndGlyphs">2</tspan> <tspan x="90.4" textLength="6.5" lengthAdjust="spacingAndGlyphs">0</tspan></text>
<circle cx="114" cy="104" r="9" fill="#ebe1fd"/>
<g fill="none" stroke="#6a26f8" stroke-width="1.35"><path d="M109.2 102.4a5.1 5.1 0 0 1 9.9-0.3"/><path d="M118.9 105.5a5.1 5.1 0 0 1-9.9 0.3"/></g>
<path d="M121.2 101.3l-0.9 2.8-2.6-2.3zM106.9 106.6l0.9-2.8 2.6 2.3z" fill="#6a26f8"/>
<text y="108.8" font-size="13" fill="#131722" stroke="#131722" stroke-width="0.3"><tspan x="131.6" textLength="30.7" lengthAdjust="spacingAndGlyphs">58.57</tspan> <tspan x="169.1" textLength="31.2" lengthAdjust="spacingAndGlyphs">64.03</tspan> <tspan x="207.6" textLength="30.6" lengthAdjust="spacingAndGlyphs">53.11</tspan></text>
<text y="132.7" font-size="13" fill="#131722" stroke="#131722" stroke-width="0.3"><tspan x="10.0" textLength="16.6" lengthAdjust="spacingAndGlyphs">MA</tspan> <tspan x="30.7" textLength="29.1" lengthAdjust="spacingAndGlyphs">Cross</tspan> <tspan x="64.1" textLength="12.6" lengthAdjust="spacingAndGlyphs">50</tspan> <tspan x="81.6" textLength="19.4" lengthAdjust="spacingAndGlyphs">200</tspan></text>
<text y="131.9" font-size="13" fill="#131722" stroke="#131722" stroke-width="0.3"><tspan x="109.8" textLength="31.0" lengthAdjust="spacingAndGlyphs" fill="#ff0000" stroke="#ff0000" stroke-width="0.15">54.66</tspan> <tspan x="147.8" textLength="30.7" lengthAdjust="spacingAndGlyphs" fill="#0000ff" stroke="#0000ff" stroke-width="0.15">47.51</tspan></text>
<text x="186.6" y="132.4" font-size="12.5" fill="#131722" stroke="#131722" stroke-width="0.3" textLength="7.6" lengthAdjust="spacingAndGlyphs">∅</text>
<text x="1569.2" y="36.9" font-size="12.5" fill="#131722" stroke="#131722" stroke-width="0.3" textLength="29.3" lengthAdjust="spacingAndGlyphs">68.00</text>
<text x="1569.2" y="83.9" font-size="12.5" fill="#131722" stroke="#131722" stroke-width="0.3" textLength="29.3" lengthAdjust="spacingAndGlyphs">64.00</text>
<text x="1569.2" y="178.9" font-size="12.5" fill="#131722" stroke="#131722" stroke-width="0.3" textLength="29.3" lengthAdjust="spacingAndGlyphs">56.00</text>
<text x="1569.2" y="225.9" font-size="12.5" fill="#131722" stroke="#131722" stroke-width="0.3" textLength="29.3" lengthAdjust="spacingAndGlyphs">52.00</text>
<text x="1569.2" y="320.9" font-size="12.5" fill="#131722" stroke="#131722" stroke-width="0.3" textLength="29.3" lengthAdjust="spacingAndGlyphs">44.00</text>
<text x="1569.2" y="367.9" font-size="12.5" fill="#131722" stroke="#131722" stroke-width="0.3" textLength="29.3" lengthAdjust="spacingAndGlyphs">40.00</text>
<text x="1569.2" y="415.9" font-size="12.5" fill="#131722" stroke="#131722" stroke-width="0.3" textLength="29.3" lengthAdjust="spacingAndGlyphs">36.00</text>
<text x="1569.2" y="462.9" font-size="12.5" fill="#131722" stroke="#131722" stroke-width="0.3" textLength="29.3" lengthAdjust="spacingAndGlyphs">32.00</text>
<text x="1569.2" y="509.9" font-size="12.5" fill="#131722" stroke="#131722" stroke-width="0.3" textLength="29.3" lengthAdjust="spacingAndGlyphs">28.00</text>
<text x="1569.2" y="557.9" font-size="12.5" fill="#131722" stroke="#131722" stroke-width="0.3" textLength="29.3" lengthAdjust="spacingAndGlyphs">24.00</text>
<text x="1569.2" y="604.9" font-size="12.5" fill="#131722" stroke="#131722" stroke-width="0.3" textLength="29.3" lengthAdjust="spacingAndGlyphs">20.00</text>
<text x="1569.2" y="651.9" font-size="12.5" fill="#131722" stroke="#131722" stroke-width="0.3" textLength="29.3" lengthAdjust="spacingAndGlyphs">16.00</text>
<text x="1569.2" y="699.9" font-size="12.5" fill="#131722" stroke="#131722" stroke-width="0.3" textLength="29.3" lengthAdjust="spacingAndGlyphs">12.00</text>
<text x="1569.2" y="746.9" font-size="12.5" fill="#131722" stroke="#131722" stroke-width="0.3" textLength="23.1" lengthAdjust="spacingAndGlyphs">8.00</text>
<rect x="1562" y="0" width="48" height="32" fill="#fff"/>
<rect x="1564.5" y="2.5" width="43" height="25" rx="4" fill="#fff" stroke="#e6e8ee" stroke-width="1"/>
<text x="1568.2" y="18.9" font-size="12.5" fill="#131722" stroke="#131722" stroke-width="0.3" textLength="20.2" lengthAdjust="spacingAndGlyphs">USD</text>
<path d="M1597.8 14.4l2.7 2.6 2.7-2.6" fill="none" stroke="#131722" stroke-width="1.2"/>
<path d="M1561 115.0h41.3a1.5 1.5 0 0 1 1.5 1.5v14a1.5 1.5 0 0 1-1.5 1.5h-41.3z" fill="#ff0000"/>
<text x="1568.9" y="128.0" font-size="12.5" fill="#fff" stroke="#fff" stroke-width="0.3" textLength="29.3" lengthAdjust="spacingAndGlyphs">60.33</text>
<path d="M1561 182.0h41.3a1.5 1.5 0 0 1 1.5 1.5v14a1.5 1.5 0 0 1-1.5 1.5h-41.3z" fill="#ff0000"/>
<text x="1568.9" y="195.0" font-size="12.5" fill="#fff" stroke="#fff" stroke-width="0.3" textLength="29.3" lengthAdjust="spacingAndGlyphs">54.66</text>
<path d="M1561 262.0h41.3a1.5 1.5 0 0 1 1.5 1.5v14a1.5 1.5 0 0 1-1.5 1.5h-41.3z" fill="#000"/>
<text x="1568.9" y="275.0" font-size="12.5" fill="#fff" stroke="#fff" stroke-width="0.3" textLength="29.3" lengthAdjust="spacingAndGlyphs">47.92</text>
<path d="M1561 279.0h41.3a1.5 1.5 0 0 1 1.5 1.5v14a1.5 1.5 0 0 1-1.5 1.5h-41.3z" fill="#0000ff"/>
<text x="1568.9" y="292.0" font-size="12.5" fill="#fff" stroke="#fff" stroke-width="0.3" textLength="29.3" lengthAdjust="spacingAndGlyphs">47.51</text>
<text x="114.2" y="783.6" font-size="12" fill="#131722" stroke="#131722" stroke-width="0.3" textLength="19.6" lengthAdjust="spacingAndGlyphs">Feb</text>
<text x="289.8" y="783.6" font-size="12" fill="#131722" stroke="#131722" stroke-width="0.3" textLength="20.4" lengthAdjust="spacingAndGlyphs">Mar</text>
<text x="485.2" y="783.6" font-size="12" fill="#131722" stroke="#131722" stroke-width="0.3" textLength="19.6" lengthAdjust="spacingAndGlyphs">Apr</text>
<text x="678.7" y="783.6" font-size="12" fill="#131722" stroke="#131722" stroke-width="0.3" textLength="22.6" lengthAdjust="spacingAndGlyphs">May</text>
<text x="875.0" y="783.6" font-size="12" fill="#131722" stroke="#131722" stroke-width="0.3" textLength="20.0" lengthAdjust="spacingAndGlyphs">Jun</text>
<text x="1063.5" y="783.6" font-size="12" fill="#131722" stroke="#131722" stroke-width="0.3" textLength="15.0" lengthAdjust="spacingAndGlyphs">Jul</text>
<text x="1264.7" y="783.6" font-size="12" fill="#131722" stroke="#131722" stroke-width="0.3" textLength="20.6" lengthAdjust="spacingAndGlyphs">Aug</text>
<text x="1460.0" y="783.6" font-size="12" fill="#131722" stroke="#131722" stroke-width="0.3" textLength="20.0" lengthAdjust="spacingAndGlyphs">Sep</text>
<g fill="none" stroke="#131722" stroke-width="1.2"><path d="M1583 774.4h7l3.4 6-3.4 6h-7l-3.4-6z"/><circle cx="1586.5" cy="780.4" r="1.8"/></g>
<g transform="translate(13,733.66) scale(0.835)" fill="#131313"><path d="M14 22H7V11H0V4h14v18zM28 22h-8l7.5-18h8L28 22z"/><circle cx="20" cy="8" r="4"/></g>
<text x="50.1" y="751.7" font-size="21.4" fill="#131313" font-weight="bold" stroke="#131313" stroke-width="0.3" textLength="121.1" lengthAdjust="spacingAndGlyphs">TradingView</text>
</svg>
</body></html>
